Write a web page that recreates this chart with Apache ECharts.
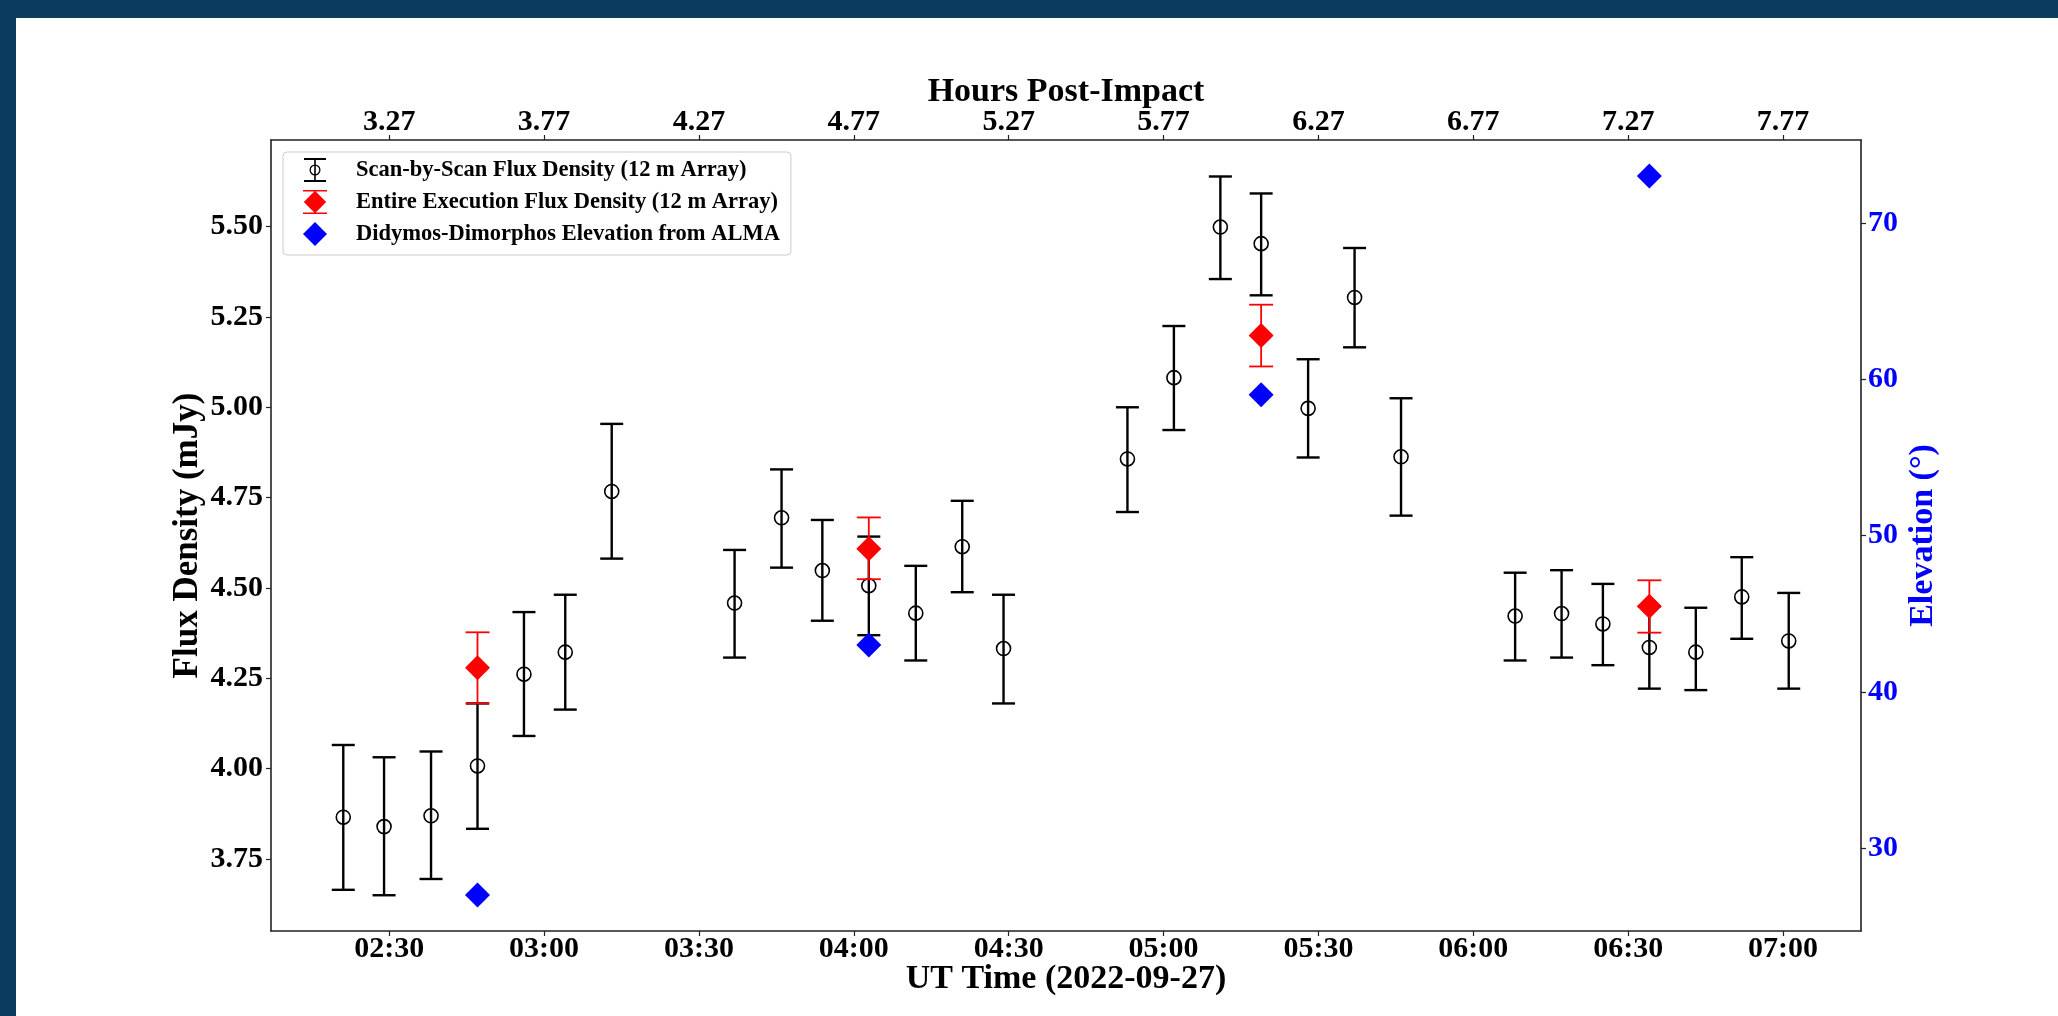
<!DOCTYPE html>
<html>
<head>
<meta charset="utf-8">
<script src="https://cdn.jsdelivr.net/npm/echarts@6/dist/echarts.min.js"></script>
<style>
  html, body { margin: 0; padding: 0; width: 2058px; height: 1016px; overflow: hidden; background: #0b3b5e; }
  #chart { position: absolute; left: 16px; top: 18px; width: 2042px; height: 998px; background: #ffffff; }
</style>
</head>
<body>
<div id="chart"></div>
<script>
// ---- data (UT minutes after 00:00 on 2022-09-27) ----
const scanTimes = [141.1, 149.0, 158.1, 167.1, 176.1, 184.1, 193.1, 216.9, 226.0, 233.9, 242.9, 252.0, 261.0, 269.0,
                   293.0, 302.0, 311.0, 318.9, 328.0, 337.0, 346.0, 368.1, 377.1, 385.1, 394.1, 403.1, 412.0, 421.1];
const scanFlux  = [3.865, 3.839, 3.869, 4.007, 4.261, 4.322, 4.767, 4.458, 4.694, 4.548, 4.506, 4.430, 4.614, 4.332,
                   4.857, 5.082, 5.499, 5.453, 4.997, 5.304, 4.863, 4.422, 4.429, 4.400, 4.335, 4.322, 4.475, 4.353];
const scanLow   = [3.664, 3.649, 3.694, 3.833, 4.090, 4.163, 4.581, 4.307, 4.556, 4.409, 4.369, 4.299, 4.488, 4.180,
                   4.710, 4.937, 5.355, 5.310, 4.861, 5.166, 4.700, 4.299, 4.307, 4.286, 4.221, 4.217, 4.359, 4.221];
const scanHigh  = [4.065, 4.031, 4.047, 4.180, 4.433, 4.481, 4.954, 4.605, 4.828, 4.688, 4.642, 4.561, 4.741, 4.481,
                   5.000, 5.225, 5.639, 5.592, 5.133, 5.441, 5.025, 4.542, 4.549, 4.511, 4.449, 4.445, 4.585, 4.486];

const execTimes = [167.1, 242.9, 318.9, 394.1];
const execFlux  = [4.279, 4.608, 5.199, 4.449];
const execLow   = [4.180, 4.524, 5.113, 4.376];
const execHigh  = [4.377, 4.695, 5.284, 4.521];

const elevTimes = [167.1, 242.9, 318.9, 394.1];
const elevation = [27.0, 43.0, 59.0, 73.0];

const xTickValues     = [150, 180, 210, 240, 270, 300, 330, 360, 390, 420];
const utTickLabels    = ['02:30', '03:00', '03:30', '04:00', '04:30', '05:00', '05:30', '06:00', '06:30', '07:00'];
const hoursTickLabels = ['3.27', '3.77', '4.27', '4.77', '5.27', '5.77', '6.27', '6.77', '7.27', '7.77'];
const fluxTicks = [3.75, 4.00, 4.25, 4.50, 4.75, 5.00, 5.25, 5.50];
const elevTicks = [30, 40, 50, 60, 70];

const seriesNames = [
  'Scan-by-Scan Flux Density (12 m Array)',
  'Entire Execution Flux Density (12 m Array)',
  'Didymos-Dimorphos Elevation from ALMA'
];

// ---- styling ----
const FONT = 'Liberation Serif';
const AXIS_COLOR = '#222222';

function errorBarRenderer(color, lineWidth, capWidth) {
  return function (params, api) {
    const x = api.value(0), lo = api.value(1), hi = api.value(2);
    const pLo = api.coord([x, lo]);
    const pHi = api.coord([x, hi]);
    const h = capWidth / 2;
    const st = { stroke: color, lineWidth: lineWidth, fill: null };
    return {
      type: 'group',
      children: [
        { type: 'line', shape: { x1: pLo[0], y1: pLo[1], x2: pHi[0], y2: pHi[1] }, style: st },
        { type: 'line', shape: { x1: pLo[0] - h, y1: pLo[1], x2: pLo[0] + h, y2: pLo[1] }, style: st },
        { type: 'line', shape: { x1: pHi[0] - h, y1: pHi[1], x2: pHi[0] + h, y2: pHi[1] }, style: st }
      ]
    };
  };
}

const scanIcon = 'path://' +
  'M0,0 L0,2 L22,2 L22,0 Z ' +
  'M0,22 L0,24 L22,24 L22,22 Z ' +
  'M10.2,0 L10.2,24 L11.8,24 L11.8,0 Z ' +
  'M5.5,12 A5.5,5.5 0 1,0 16.5,12 A5.5,5.5 0 1,0 5.5,12 Z ' +
  'M6.8,12 A4.2,4.2 0 1,1 15.2,12 A4.2,4.2 0 1,1 6.8,12 Z';
const execIcon = 'path://' +
  'M0,0 L0,1.6 L24,1.6 L24,0 Z ' +
  'M0,22.4 L0,24 L24,24 L24,22.4 Z ' +
  'M11.2,0 L11.2,24 L12.8,24 L12.8,0 Z ' +
  'M12,0.8 L0.8,12 L12,23.2 L23.2,12 Z';

const chart = echarts.init(document.getElementById('chart'), null, { renderer: 'canvas' });

const tickLabelStyle = { fontFamily: FONT, fontWeight: 'bold', fontSize: 30, color: '#000' };
const nameStyle = { fontFamily: FONT, fontWeight: 'bold', fontSize: 34, color: '#000' };

const option = {
  animation: false,
  backgroundColor: '#ffffff',
  grid: { left: 255, top: 122, right: 197, bottom: 85, containLabel: false },
  legend: {
    orient: 'vertical',
    left: 267, top: 134,
    padding: [6, 11, 9, 20],
    itemGap: 8,
    itemWidth: 24, itemHeight: 24,
    backgroundColor: '#ffffff',
    borderColor: '#cccccc', borderWidth: 1, borderRadius: 4,
    selectedMode: false,
    textStyle: { fontFamily: FONT, fontWeight: 'bold', fontSize: 22.5, color: '#000', padding: [0, 0, 0, 24] },
    data: [
      { name: seriesNames[0], icon: scanIcon, itemStyle: { color: '#000', borderWidth: 0 } },
      { name: seriesNames[1], icon: execIcon, itemStyle: { color: '#ff0000', borderWidth: 0 } },
      { name: seriesNames[2], icon: 'diamond', itemStyle: { color: '#0000ff', borderWidth: 0 } }
    ]
  },
  xAxis: [
    {
      type: 'value', position: 'bottom', min: 127.1, max: 435.1,
      name: 'UT Time (2022-09-27)', nameLocation: 'middle', nameGap: 31, nameMoveOverlap: false,
      nameTextStyle: nameStyle,
      axisLine: { show: true, onZero: false, lineStyle: { color: AXIS_COLOR, width: 1.6 } },
      axisTick: { show: true, customValues: xTickValues, length: 5, lineStyle: { color: AXIS_COLOR, width: 1.2 } },
      axisLabel: Object.assign({ customValues: xTickValues, margin: 3,
        formatter: v => utTickLabels[xTickValues.indexOf(Math.round(v))] || '' }, tickLabelStyle),
      splitLine: { show: false }
    },
    {
      type: 'value', position: 'top', min: 127.1, max: 435.1,
      name: 'Hours Post-Impact', nameLocation: 'middle', nameGap: 31, nameMoveOverlap: false,
      nameTextStyle: nameStyle,
      axisLine: { show: true, onZero: false, lineStyle: { color: AXIS_COLOR, width: 1.6 } },
      axisTick: { show: true, customValues: xTickValues, length: 5, lineStyle: { color: AXIS_COLOR, width: 1.2 } },
      axisLabel: Object.assign({ customValues: xTickValues, margin: 3,
        formatter: v => hoursTickLabels[xTickValues.indexOf(Math.round(v))] || '' }, tickLabelStyle),
      splitLine: { show: false }
    }
  ],
  yAxis: [
    {
      type: 'value', position: 'left', min: 3.55, max: 5.74,
      name: 'Flux Density (mJy)', nameLocation: 'middle', nameGap: 66, nameMoveOverlap: false,
      nameTextStyle: Object.assign({}, nameStyle, { fontSize: 35 }),
      axisLine: { show: true, onZero: false, lineStyle: { color: AXIS_COLOR, width: 1.6 } },
      axisTick: { show: true, customValues: fluxTicks, length: 5, lineStyle: { color: AXIS_COLOR, width: 1.2 } },
      axisLabel: Object.assign({ customValues: fluxTicks, margin: 8, formatter: v => v.toFixed(2) }, tickLabelStyle),
      splitLine: { show: false }
    },
    {
      type: 'value', position: 'right', min: 24.7, max: 75.3,
      name: 'Elevation (°)', nameLocation: 'middle', nameGap: 45, nameRotate: 90, nameMoveOverlap: false,
      nameTextStyle: Object.assign({}, nameStyle, { color: '#0000ff' }),
      axisLine: { show: true, onZero: false, lineStyle: { color: AXIS_COLOR, width: 1.6 } },
      axisTick: { show: true, customValues: elevTicks, length: 5, lineStyle: { color: AXIS_COLOR, width: 1.2 } },
      axisLabel: Object.assign({ customValues: elevTicks, margin: 7, formatter: v => String(v) },
        tickLabelStyle, { color: '#0000ff' }),
      splitLine: { show: false }
    }
  ],
  series: [
    {
      type: 'custom', name: 'scanErr', xAxisIndex: 0, yAxisIndex: 0, z: 2,
      renderItem: errorBarRenderer('#000000', 2.4, 23),
      data: scanTimes.map((t, i) => [t, scanLow[i], scanHigh[i]]),
      encode: { x: 0, y: [1, 2] }
    },
    {
      type: 'scatter', name: seriesNames[0], xAxisIndex: 0, yAxisIndex: 0, z: 3,
      symbol: 'circle', symbolSize: 14,
      itemStyle: { color: 'rgba(0,0,0,0)', borderColor: '#000000', borderWidth: 1.6, opacity: 1 },
      data: scanTimes.map((t, i) => [t, scanFlux[i]])
    },
    {
      type: 'custom', name: 'execErr', xAxisIndex: 0, yAxisIndex: 0, z: 4,
      renderItem: errorBarRenderer('#ff0000', 1.8, 24),
      data: execTimes.map((t, i) => [t, execLow[i], execHigh[i]]),
      encode: { x: 0, y: [1, 2] }
    },
    {
      type: 'scatter', name: seriesNames[1], xAxisIndex: 0, yAxisIndex: 0, z: 5,
      symbol: 'diamond', symbolSize: 25,
      itemStyle: { color: '#ff0000', opacity: 1 },
      data: execTimes.map((t, i) => [t, execFlux[i]])
    },
    {
      type: 'scatter', name: seriesNames[2], xAxisIndex: 0, yAxisIndex: 1, z: 6,
      symbol: 'diamond', symbolSize: 25,
      itemStyle: { color: '#0000ff', opacity: 1 },
      data: elevTimes.map((t, i) => [t, elevation[i]])
    }
  ]
};

chart.setOption(option);
</script>
</body>
</html>
